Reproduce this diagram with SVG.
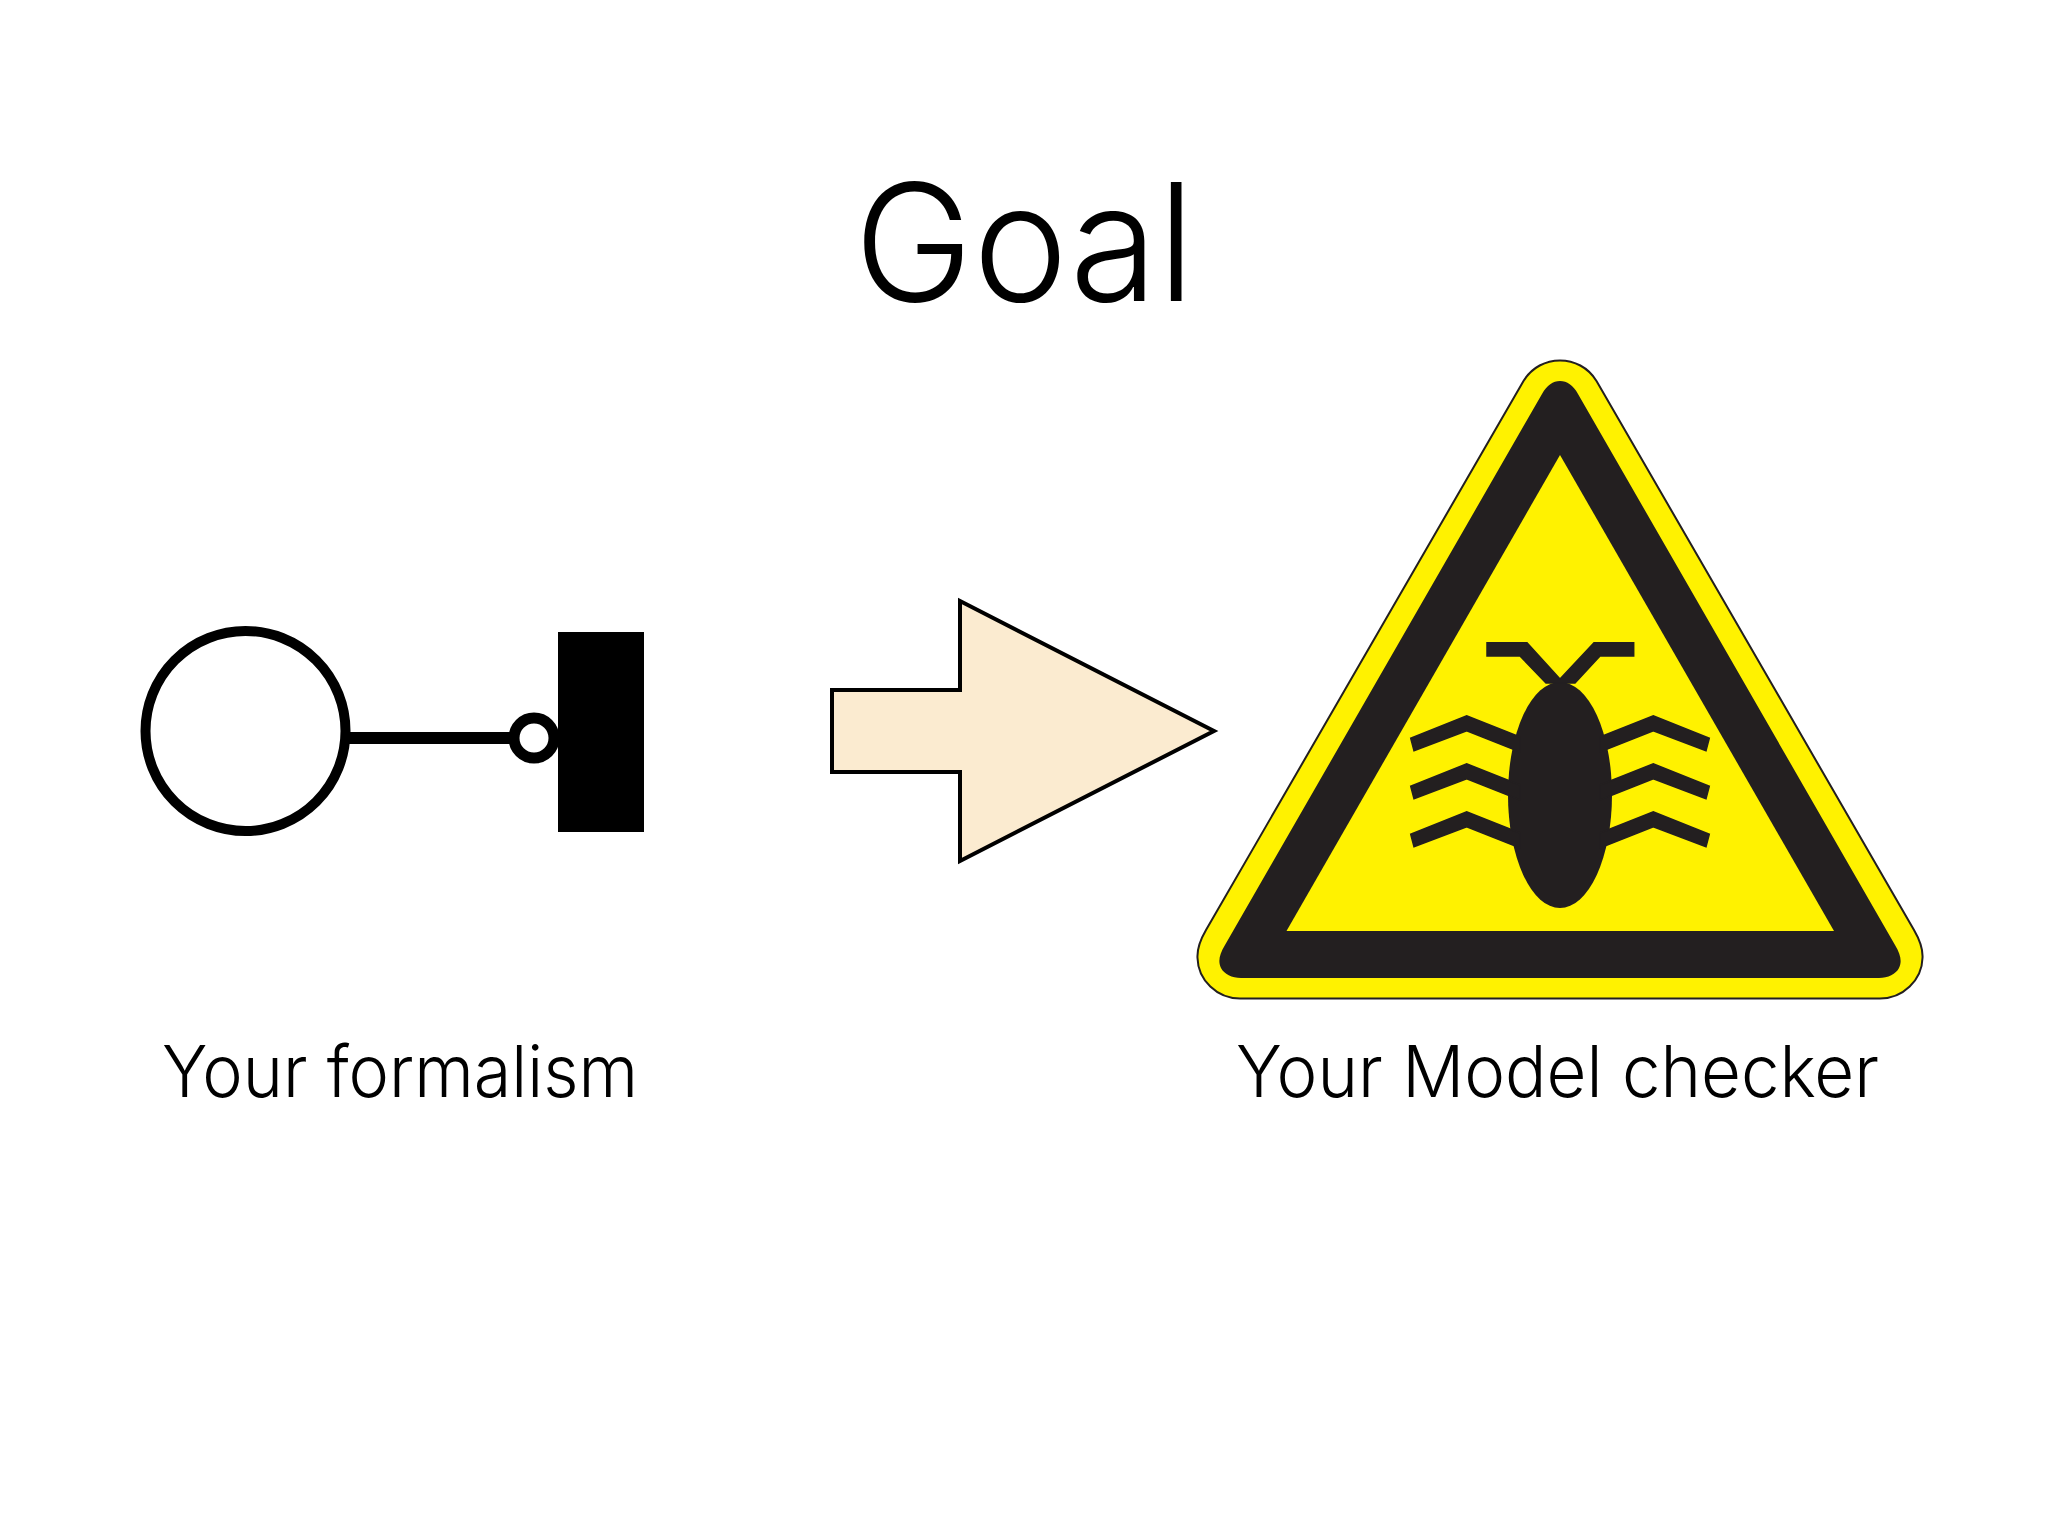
<svg xmlns="http://www.w3.org/2000/svg" xmlns:xlink="http://www.w3.org/1999/xlink" width="2048" height="1536" viewBox="0 0 2048 1536">
<style>
.t{font-family:"Inter","Liberation Sans",sans-serif;font-weight:300;fill:#000}
.lb{font-size:72px}
.k{fill:#000}
.o{fill:none;stroke:#000}
.d{fill:#231F20}
.s{stroke:#231F20;stroke-width:1.500}
.y{fill:#FFF200}
</style>
<defs>
<polygon id="leg" class="d s" points="1600,737 1653.300,715.700 1709.300,738.300 1706,750.700 1653.300,730.700 1600,752"/>
</defs>
<rect width="2048" height="1536" fill="#fff"/>
<text id="title" class="t" x="854" y="301" font-size="163" textLength="341" lengthAdjust="spacingAndGlyphs">Goal</text>
<g id="formalism">
<circle cx="245.500" cy="731" r="100" fill="#fff" stroke="#000" stroke-width="10"/>
<rect class="k" x="558" y="632" width="86" height="200"/>
</g>
<g id="connectors">
<line class="o" x1="345" y1="738" x2="512" y2="738" stroke-width="12"/>
<circle cx="534" cy="738" r="20" fill="#fff" stroke="#000" stroke-width="11"/>
<rect class="k" x="558" y="632" width="3" height="200"/>
<polygon points="832,690 960,690 960,601 1214,731 960,861 960,772 832,772" fill="#FBEBD0" stroke="#000" stroke-width="4"/>
</g>
<g id="checker">
<path fill="#FFF200" stroke="#231F20" stroke-width="2" d="M1523.500,381 C1532,367 1546,360.500 1560,360.500 C1574,360.500 1588,367 1596.500,381 L1914,930 C1921,942 1923,950 1922.500,958 C1922,980 1903,998.500 1880,998.500 L1240,998.500 C1217,998.500 1198,980 1197.500,958 C1197,950 1199,942 1206,930 Z"/>
<path class="d" d="M1542,394 C1547,385 1553,381 1560,381 C1567,381 1573,385 1578,394 L1895,945 C1901,955 1902,962 1899,968 C1896,974 1888,978 1879,978 L1241,978 C1232,978 1224,974 1221,968 C1218,962 1219,955 1225,945 Z"/>
<polygon class="y" points="1560,455 1834,931 1286.500,931"/>
<ellipse class="d" cx="1560" cy="795" rx="52" ry="113"/>
<polygon class="d s" points="1487,642.700 1527,642.700 1560,679 1594,642.700 1633.700,642.700 1633.700,656 1600,656 1575,683 1546,683 1520,656 1487,656"/>
<g id="legs">
<use xlink:href="#leg"/>
<use xlink:href="#leg" y="48"/>
<use xlink:href="#leg" y="96"/>
<use xlink:href="#leg" transform="matrix(-1 0 0 1 3120 0)"/>
<use xlink:href="#leg" transform="matrix(-1 0 0 1 3120 48)"/>
<use xlink:href="#leg" transform="matrix(-1 0 0 1 3120 96)"/>
</g>
</g>
<text id="label-formalism" class="t lb" x="162" y="1097" textLength="476" lengthAdjust="spacingAndGlyphs">Your formalism</text>
<text id="label-checker" class="t lb" x="1236" y="1097" textLength="643" lengthAdjust="spacingAndGlyphs">Your Model checker</text>
</svg>
